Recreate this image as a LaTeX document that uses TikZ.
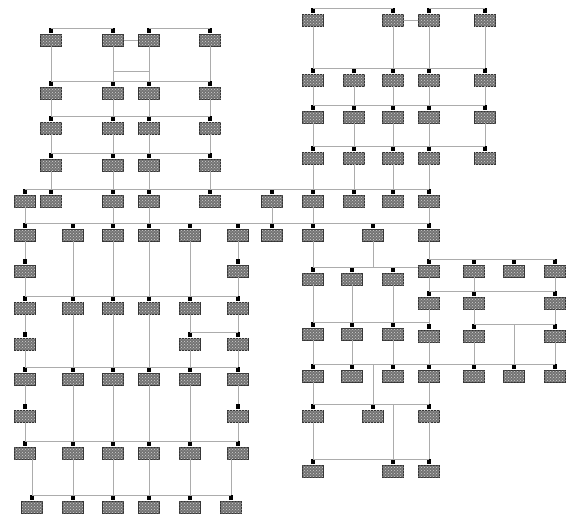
\documentclass[tikz,border=0pt]{standalone}
\usetikzlibrary{patterns}
\begin{document}
\begin{tikzpicture}[x=1pt,y=-1pt,
  bx/.style={draw=black!80, fill=black!55, minimum width=21pt, minimum height=12pt, inner sep=0pt, line width=0.8pt,
    postaction={pattern=crosshatch dots, pattern color=gray!35}},
  tabsq/.style={fill=black, draw=none, minimum width=4pt, minimum height=5pt, inner sep=0pt, anchor=south},
  ln/.style={draw=gray!65, line width=0.7pt}]
\useasboundingbox[fill=white] (0,0) rectangle (579,514);
\newcommand\B[3]{\node[bx] (#1) at (#2,#3) {}; \node[tabsq] (#1t) at (#1.north) {};}
% ---------- top-left group
\foreach \n/\x in {1/51,2/113,3/149,4/210}{
  \B{a\n}{\x}{40} \B{b\n}{\x}{93} \B{c\n}{\x}{128} \B{d\n}{\x}{165}}
% ---------- top-right group
\B{ta1}{313}{20} \B{ta2}{393}{20} \B{ta3}{429}{20} \B{ta4}{485}{20}
\foreach \n/\x in {1/313,2/354,3/393,4/429,5/485}{
  \B{tb\n}{\x}{80} \B{tc\n}{\x}{117} \B{td\n}{\x}{158}}
% ---------- row E and F
\foreach \n/\x in {1/25,2/51,3/113,4/149,5/210,6/272,7/313,8/354,9/393,10/429}{\B{e\n}{\x}{201}}
\foreach \n/\x in {1/25,2/73,3/113,4/149,5/190,6/238,7/272,8/313,9/373,10/429}{\B{f\n}{\x}{235}}
% ---------- lower-left group
\B{g1}{25}{271} \B{g2}{238}{271}
\foreach \n/\x in {1/25,2/73,3/113,4/149,5/190,6/238}{\B{h\n}{\x}{308} \B{j\n}{\x}{379} \B{l\n}{\x}{453}}
\B{i1}{25}{344} \B{i2}{190}{344} \B{i3}{238}{344}
\B{k1}{25}{416} \B{k2}{238}{416}
\foreach \n/\x in {1/32,2/73,3/113,4/149,5/190,6/231}{\B{m\n}{\x}{507}}
% ---------- lower-right group
\B{n1}{313}{279} \B{n2}{352}{279} \B{n3}{393}{279}
\B{u1}{429}{271} \B{u2}{474}{271} \B{u3}{514}{271} \B{u4}{555}{271}
\B{v1}{429}{303} \B{v2}{474}{303} \B{v3}{555}{303}
\B{w1}{429}{336} \B{w2}{474}{336} \B{w3}{555}{336}
\B{x1}{313}{334} \B{x2}{352}{334} \B{x3}{393}{334}
\foreach \n/\x in {1/313,2/352,3/393,4/429,5/474,6/514,7/555}{\B{t\n}{\x}{376}}
\B{y1}{313}{416} \B{y2}{373}{416} \B{y3}{429}{416}
\B{z1}{313}{471} \B{z2}{393}{471} \B{z3}{429}{471}
\coordinate (hk) at (113,71);
% ---------- connectors
\path[ln]
  (a1t.north) -- (a2t.north)  (a3t.north) -- (a4t.north)  (a2.east) -- (a3.west)
  (hk) -- (hk -| a3)
  (b1t.north) -- (b4t.north)  (c1t.north) -- (c4t.north)  (d1t.north) -- (d4t.north)
  (d1.south) -- (e2t.north)  (d2.south) -- (e3t.north)  (d3.south) -- (e4t.north)  (d4.south) -- (e5t.north)
  (ta1t.north) -- (ta2t.north)  (ta3t.north) -- (ta4t.north)  (ta2.east) -- (ta3.west)
  (ta1.south) -- (tb1t.north)  (ta2.south) -- (tb3t.north)  (ta3.south) -- (tb4t.north)  (ta4.south) -- (tb5t.north)
  (tb1t.north) -- (tb5t.north)  (tc1t.north) -- (tc5t.north)  (td1t.north) -- (td5t.north)
  (td1.south) -- (e7t.north)  (td2.south) -- (e8t.north)  (td3.south) -- (e9t.north)  (td4.south) -- (e10t.north)
  (e1t.north) -- (e10t.north)
  (e1.south) -- (f1t.north)  (e3.south) -- (f3t.north)  (e4.south) -- (f4t.north)
  (e6.south) -- (f7t.north)  (e7.south) -- (f8t.north)  (e10.south) -- (f10t.north)
  (f1t.north) -- (f10t.north)
  (f1.south) -- (g1t.north)  (f6.south) -- (g2t.north)
  (f2.south) -- (h2t.north)  (f3.south) -- (h3t.north)  (f4.south) -- (h4t.north)  (f5.south) -- (h5t.north)
  (g1.south) -- (h1t.north)  (g2.south) -- (h6t.north)
  (h1t.north) -- (h6t.north)
  (h1.south) -- (i1t.north)  (h5.south) -- (i2t.north)  (h6.south) -- (i3t.north)
  (i2t.north) -- (i3t.north)
  (h2.south) -- (j2t.north)  (h3.south) -- (j3t.north)  (h4.south) -- (j4t.north)
  (i1.south) -- (j1t.north)  (i2.south) -- (j5t.north)  (i3.south) -- (j6t.north)
  (j1t.north) -- (j6t.north)
  (j1.south) -- (k1t.north)  (j6.south) -- (k2t.north)
  (j2.south) -- (l2t.north)  (j3.south) -- (l3t.north)  (j4.south) -- (l4t.north)  (j5.south) -- (l5t.north)
  (k1.south) -- (l1t.north)  (k2.south) -- (l6t.north)
  (l1t.north) -- (l6t.north)
  (l1.south -| m1) -- (m1t.north)  (l2.south) -- (m2t.north)  (l3.south) -- (m3t.north)
  (l4.south) -- (m4t.north)  (l5.south) -- (m5t.north)  (l6.south -| m6) -- (m6t.north)
  (m1t.north) -- (m6t.north)
  (f8.south) -- (n1t.north)  (f9.south) -- (f9 |- n1t.north)  (f10.south) -- (u1t.north)
  (n1t.north) -- (n1t.north -| u1.west)
  (u1t.north) -- (u4t.north)
  (u1.south) -- (v1t.north)  (u2.south) -- (v2t.north)  (u4.south) -- (v3t.north)
  (v1t.north) -- (v3t.north)
  (v1.south) -- (w1t.north)  (v2.south) -- (w2t.north)  (v3.south) -- (w3t.north)
  (w2t.north) -- (w3t.north)  (w2t.north -| t6) -- (t6t.north)
  (n1.south) -- (x1t.north)  (n2.south) -- (x2t.north)  (n3.south) -- (x3t.north)
  (x1t.north) -- (x1t.north -| w1)
  (x1.south) -- (t1t.north)  (x2.south) -- (t2t.north)  (x3.south) -- (t3t.north)
  (w1.south) -- (t4t.north)  (w2.south) -- (t5t.north)  (w3.south) -- (t7t.north)
  (t1t.north) -- (t7t.north)
  (t1t.north -| y2) -- (y2t.north)
  (t1.south) -- (y1t.north)  (t4.south) -- (y3t.north)
  (y1t.north) -- (y3t.north)
  (y1t.north -| z2) -- (z2t.north)
  (y1.south) -- (z1t.north)  (y3.south) -- (z3t.north)
  (z1t.north) -- (z3t.north);
\path[ln] (a1.south) -- (b1t.north) (a2.south) -- (b2t.north) (a3.south) -- (b3t.north) (a4.south) -- (b4t.north)
  (b1.south) -- (c1t.north) (b2.south) -- (c2t.north) (b3.south) -- (c3t.north) (b4.south) -- (c4t.north)
  (c1.south) -- (d1t.north) (c2.south) -- (d2t.north) (c3.south) -- (d3t.north) (c4.south) -- (d4t.north);
\path[ln] (tb1.south) -- (tc1t.north) (tb2.south) -- (tc2t.north) (tb3.south) -- (tc3t.north) (tb4.south) -- (tc4t.north) (tb5.south) -- (tc5t.north)
  (tc1.south) -- (td1t.north) (tc2.south) -- (td2t.north) (tc3.south) -- (td3t.north) (tc4.south) -- (td4t.north) (tc5.south) -- (td5t.north);
\end{tikzpicture}
\end{document}
